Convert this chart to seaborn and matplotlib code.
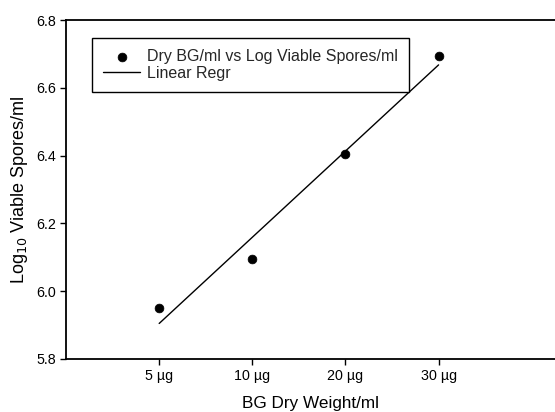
import matplotlib
matplotlib.use("Agg")
import matplotlib.pyplot as plt
import seaborn as sns
import numpy as np
import pandas as pd

doses = ["5 µg", "10 µg", "20 µg", "30 µg"]
positions = [1, 2, 3, 4]
log_spores = [5.95, 6.095, 6.405, 6.695]
y_ticks = [5.8, 6.0, 6.2, 6.4, 6.6, 6.8]

sns.set_theme(style="ticks")
plt.rcParams['font.family'] = ['Liberation Sans', 'DejaVu Sans']

df = pd.DataFrame({"pos": positions, "val": log_spores})

fig = plt.figure(figsize=(5.55, 4.12), dpi=100)
ax = fig.add_axes([0.119, 0.129, 0.881, 0.822])

sns.scatterplot(data=df, x="pos", y="val", ax=ax, color="black", s=40,
                edgecolor="black", label="Dry BG/ml vs Log Viable Spores/ml", zorder=3)
sns.regplot(data=df, x="pos", y="val", ax=ax, scatter=False, ci=None,
            truncate=True, color="black", line_kws={"lw": 1.0},
            label="Linear Regr")

ax.set_xlim(0, 5.25)
ax.set_ylim(5.8, 6.8)
ax.set_xticks(positions)
ax.set_xticklabels(doses)
ax.set_yticks(y_ticks)
ax.set_yticklabels([f"{v:.1f}" for v in y_ticks])
ax.tick_params(axis="both", labelsize=10.3, length=4, width=1, color="black", labelcolor="black", direction="out")
for s in ["left", "bottom", "top"]:
    ax.spines[s].set_visible(True)
    ax.spines[s].set_linewidth(1.3)
    ax.spines[s].set_color("black")
ax.spines["right"].set_visible(False)

ax.set_xlabel("BG Dry Weight/ml", fontsize=12.3, color="black", labelpad=9)
ax.set_ylabel("Log$_{10}$ Viable Spores/ml", fontsize=13, color="black", labelpad=4)

leg = ax.legend(loc="upper left", bbox_to_anchor=(0.053, 0.947), borderaxespad=0,
                fontsize=11.5, frameon=True, fancybox=False, edgecolor="black",
                framealpha=1, handlelength=2.3, handletextpad=0.42,
                borderpad=0.7, labelspacing=0.1)
leg.get_frame().set_linewidth(1.0)

fig.savefig("out.png", dpi=100)
